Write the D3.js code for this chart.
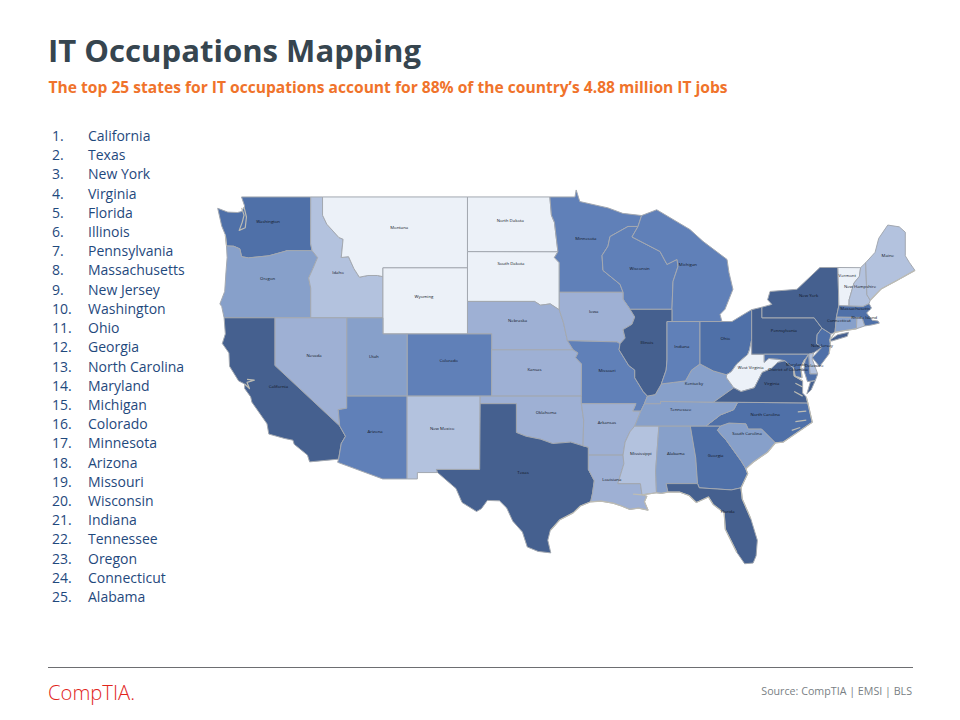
<!DOCTYPE html>
<html>
<head>
<meta charset="utf-8">
<script src="https://cdnjs.cloudflare.com/ajax/libs/d3/7.8.5/d3.min.js"></script>
<style>
  html, body { margin: 0; padding: 0; background: #fff; }
  text { font-family: "Open Sans", sans-serif; }
</style>
</head>
<body>
<div id="chart"></div>
<script>
// ranking shown in the left column
const topStates = ["California", "Texas", "New York", "Virginia", "Florida", "Illinois", "Pennsylvania",
  "Massachusetts", "New Jersey", "Washington", "Ohio", "Georgia", "North Carolina", "Maryland", "Michigan",
  "Colorado", "Minnesota", "Arizona", "Missouri", "Wisconsin", "Indiana", "Tennessee", "Oregon",
  "Connecticut", "Alabama"];

// shade groups, darkest first
const tier1 = ["California", "Texas", "New York", "Virginia", "Florida", "Illinois", "Pennsylvania"];
const tier2 = ["Massachusetts", "New Jersey", "Washington", "Ohio", "Georgia", "North Carolina", "Maryland"];
const tier3 = ["Michigan", "Colorado", "Minnesota", "Arizona", "Missouri", "Wisconsin", "Indiana"];
const tier4 = ["Tennessee", "Oregon", "Connecticut", "Alabama", "Utah", "Kentucky", "South Carolina"];
const tier5 = ["Nevada", "Nebraska", "Kansas", "Oklahoma", "Arkansas", "Louisiana", "Iowa"];
const tier6 = ["Idaho", "New Mexico", "Mississippi", "Maine", "New Hampshire", "Delaware", "Rhode Island"];
const tier7 = ["Montana", "North Dakota", "South Dakota", "Wyoming", "West Virginia", "Vermont"];

// state outlines, lon/lat
const washington = [[[-122.76,49],[-117.03,49],[-117.04,46.42],[-116.92,46],[-118.98,46],[-119.3,45.93],[-120.5,45.7],[-121.2,45.65],[-122.2,45.58],[-122.75,45.65],[-122.9,46.1],[-123.4,46.25],[-124,46.27],[-124.1,46.9],[-124.4,47.4],[-124.73,48.38],[-123.9,48.17],[-123.1,48.15],[-122.75,48.2],[-122.5,48.5]]];
const oregon = [[[-124,46.27],[-123.4,46.25],[-122.9,46.1],[-122.75,45.65],[-122.2,45.58],[-121.2,45.65],[-120.5,45.7],[-119.3,45.93],[-118.98,46],[-116.92,46],[-116.46,45.6],[-116.85,44.95],[-117.2,44.4],[-117.03,43.8],[-117.03,42],[-124.2,42],[-124.4,42.7],[-124.55,42.85],[-124.15,43.6],[-124.05,44.7],[-123.95,45.6]]];
const idaho = [[[-117.03,49],[-116.05,49],[-116.05,48],[-115.7,47.5],[-114.7,46.75],[-114.35,46.65],[-114.5,45.6],[-113.9,45.65],[-113.45,44.95],[-113,44.45],[-112.3,44.55],[-111.5,44.55],[-111.05,44.48],[-111.05,42],[-117.03,42],[-117.03,43.8],[-117.2,44.4],[-116.85,44.95],[-116.46,45.6],[-116.92,46],[-117.04,46.42]]];
const montana = [[[-116.05,49],[-104.05,49],[-104.05,45],[-111.05,45],[-111.05,44.48],[-111.5,44.55],[-112.3,44.55],[-113,44.45],[-113.45,44.95],[-113.9,45.65],[-114.5,45.6],[-114.35,46.65],[-114.7,46.75],[-115.7,47.5],[-116.05,48]]];
const wyoming = [[[-111.05,45],[-104.05,45],[-104.05,41],[-111.05,41]]];
const northDakota = [[[-104.05,49],[-97.23,49],[-97.1,48],[-96.85,47.6],[-96.56,45.93],[-104.05,45.94]]];
const southDakota = [[[-104.05,45.94],[-96.56,45.93],[-96.85,45.6],[-96.45,45.3],[-96.45,42.49],[-97.2,42.85],[-98,42.77],[-98.5,43],[-104.05,43]]];
const nebraska = [[[-104.05,43],[-98.5,43],[-98,42.77],[-97.2,42.85],[-96.45,42.49],[-96.1,41.7],[-95.9,41],[-95.77,40.58],[-95.3,40],[-102.05,40],[-102.05,41],[-104.05,41]]];
const colorado = [[[-109.05,41],[-102.05,41],[-102.05,37],[-109.05,37]]];
const kansas = [[[-102.05,40],[-95.3,40],[-94.9,39.8],[-95.1,39.5],[-94.61,39.1],[-94.62,37],[-102.05,37]]];
const utah = [[[-114.05,42],[-111.05,42],[-111.05,41],[-109.05,41],[-109.05,37],[-114.05,37]]];
const nevada = [[[-120,42],[-114.05,42],[-114.05,36.2],[-114.75,36.1],[-114.63,35],[-120,39]]];
const california = [[[-124.2,42],[-120,42],[-120,39],[-114.63,35],[-114.15,34.3],[-114.5,33.8],[-114.72,32.72],[-117.12,32.53],[-117.3,33],[-118.4,33.75],[-118.5,34.03],[-119.2,34.15],[-120.5,34.45],[-120.65,35.15],[-121.9,36.6],[-122,36.95],[-122.5,37.5],[-122.5,37.8],[-123,38],[-123.75,38.95],[-123.8,39.8],[-124.35,40.4],[-124.1,41]]];
const arizona = [[[-114.05,37],[-109.05,37],[-109.05,31.33],[-111.07,31.33],[-114.8,32.5],[-114.72,32.72],[-114.5,33.8],[-114.15,34.3],[-114.63,35],[-114.75,36.1],[-114.05,36.2]]];
const newMexico = [[[-109.05,37],[-103,37],[-103.04,32],[-106.62,32],[-106.53,31.78],[-108.2,31.78],[-108.2,31.33],[-109.05,31.33]]];
const oklahoma = [[[-103,37],[-94.62,37],[-94.62,36.5],[-94.43,35.4],[-94.48,33.64],[-95.5,33.9],[-97,33.8],[-98,34.1],[-99.2,34.3],[-100,34.56],[-100,36.5],[-103,36.5]]];
const texas = [[[-103,36.5],[-100,36.5],[-100,34.56],[-99.2,34.3],[-98,34.1],[-97,33.8],[-95.5,33.9],[-94.48,33.64],[-94.04,33.55],[-94.04,32],[-93.55,31.2],[-93.7,30.3],[-93.85,29.7],[-94.7,29.4],[-95.3,28.9],[-96.4,28.4],[-97.2,27.6],[-97.4,26.9],[-97.15,25.96],[-98.2,26.07],[-99.1,26.4],[-99.5,27.5],[-100.3,28.3],[-100.8,29.25],[-101.4,29.77],[-102.4,29.8],[-102.9,29.2],[-103.3,29],[-104.5,29.65],[-105,30.65],[-106.53,31.78],[-106.62,32],[-103.04,32]]];
const minnesota = [[[-97.23,49],[-95.15,49],[-95.05,49.38],[-94.75,48.75],[-92.4,48.4],[-91.2,48.1],[-89.63,47.98],[-89.93,47.37],[-90.76,47.37],[-92.25,46.8],[-92.42,46.25],[-92.91,45.72],[-92.83,44.85],[-91.42,44.03],[-91.17,43.55],[-96.45,43.55],[-96.45,45.3],[-96.85,45.6],[-96.56,45.93],[-96.85,47.6],[-97.1,48]]];
const wisconsin = [[[-89.93,47.37],[-90.76,47.37],[-92.25,46.8],[-92.42,46.25],[-92.91,45.72],[-92.83,44.85],[-91.42,44.03],[-91.17,43.55],[-91.17,43.13],[-90.59,42.52],[-87.12,42.52],[-87.03,44.2],[-86.62,45.08],[-86.7,45.49],[-87.53,45.2],[-88.11,45.95],[-90.43,46.78]]];
const michigan = [[[-89.63,47.98],[-88.38,48.3],[-85.63,47.2],[-84.55,46.53],[-82.56,45.49],[-82.4,44.73],[-82.07,43.73],[-82.73,42.52],[-83.14,42.21],[-82.98,41.77],[-87.12,41.77],[-87.12,42.52],[-87.03,44.2],[-86.62,45.08],[-86.7,45.49],[-87.53,45.2],[-88.11,45.95],[-90.43,46.78],[-89.93,47.37]]];
const iowa = [[[-96.45,43.55],[-91.17,43.55],[-91.17,43.13],[-90.59,42.52],[-90.2,42.05],[-90.43,41.6],[-91.17,41.27],[-91,40.74],[-91.42,40.38],[-91.67,40.5],[-95.77,40.58],[-95.9,41],[-96.1,41.7],[-96.45,42.49]]];
const missouri = [[[-95.77,40.58],[-91.67,40.5],[-91.42,40.38],[-91.5,40],[-90.7,39],[-90.2,38.7],[-90.2,38.2],[-89.5,37.3],[-89.15,37],[-89.4,36.5],[-89.7,36],[-90.37,36],[-90.1,36.5],[-94.62,36.5],[-94.62,37],[-94.61,39.1],[-95.1,39.5],[-94.9,39.8],[-95.3,40]]];
const arkansas = [[[-94.62,36.5],[-90.1,36.5],[-90.37,36],[-89.7,36],[-90.2,35],[-90.6,34.6],[-91,33.9],[-91.17,33],[-94.04,33],[-94.04,33.55],[-94.48,33.64],[-94.43,35.4]]];
const louisiana = [[[-94.04,33],[-91.17,33],[-91.1,32.4],[-91.6,31],[-89.73,31],[-89.6,30.2],[-89.2,30.1],[-89.4,29.7],[-89.1,29.1],[-89.9,29.25],[-90.6,29.15],[-91.3,29.4],[-92,29.6],[-93,29.75],[-93.85,29.7],[-93.7,30.3],[-93.55,31.2],[-94.04,32]]];
const mississippi = [[[-90.2,35],[-88.2,35],[-88.47,31.9],[-88.4,30.35],[-89.6,30.2],[-89.73,31],[-91.6,31],[-91.1,32.4],[-91.17,33],[-91,33.9],[-90.6,34.6]]];
const alabama = [[[-88.2,35],[-85.6,35],[-85.15,32.8],[-85,31],[-87.6,31],[-87.45,30.4],[-88,30.3],[-88.4,30.35],[-88.47,31.9]]];
const georgia = [[[-85.6,35],[-83.1,35],[-83.35,34.7],[-82.6,34],[-81.4,32.6],[-81,32.05],[-80.85,31.7],[-81.4,30.7],[-82.2,30.55],[-84.86,30.7],[-85,31],[-85.15,32.8]]];
const florida = [[[-87.6,31],[-85,31],[-84.86,30.7],[-82.2,30.55],[-81.4,30.7],[-81.3,29.9],[-80.6,28.5],[-80.05,26.9],[-80.15,25.75],[-80.4,25.2],[-81.1,25.15],[-81.75,26],[-82.7,27.7],[-82.8,28.9],[-83.7,29.5],[-84.1,30.05],[-85.1,29.65],[-85.7,30.15],[-86.5,30.4],[-87.45,30.4]]];
const southCarolina = [[[-83.1,35],[-82.4,35.2],[-81,35.15],[-80.8,34.8],[-79.7,34.8],[-78.55,33.85],[-79.2,33.2],[-80.4,32.5],[-81,32.05],[-81.4,32.6],[-82.6,34],[-83.35,34.7]]];
const northCarolina = [[[-81.68,36.59],[-75.87,36.55],[-75.5,35.25],[-76.5,34.7],[-77.9,33.9],[-78.55,33.85],[-79.7,34.8],[-80.8,34.8],[-81,35.15],[-82.4,35.2],[-83.1,35],[-84.3,35],[-83.1,35.75],[-82,36.1]]];
const tennessee = [[[-89.4,36.5],[-88.07,36.5],[-88.07,36.65],[-83.68,36.6],[-81.68,36.59],[-82,36.1],[-83.1,35.75],[-84.3,35],[-90.2,35],[-89.7,36]]];
const kentucky = [[[-89.4,36.5],[-88.07,36.5],[-88.07,36.65],[-83.68,36.6],[-82,37.55],[-82.6,38.2],[-82.6,38.4],[-83.7,38.65],[-84.8,39.1],[-85.5,38.7],[-86,38],[-87,37.9],[-88,37.8],[-88.5,37.1],[-89.15,37]]];
const illinois = [[[-90.59,42.52],[-87.12,42.52],[-87.12,41.77],[-87.53,41.77],[-87.53,39.35],[-87.6,38.7],[-88,37.8],[-88.5,37.1],[-89.15,37],[-89.5,37.3],[-90.2,38.2],[-90.2,38.7],[-90.7,39],[-91.5,40],[-91.42,40.38],[-91,40.74],[-91.17,41.27],[-90.43,41.6],[-90.2,42.05]]];
const indiana = [[[-87.53,41.77],[-84.8,41.77],[-84.8,39.1],[-85.5,38.7],[-86,38],[-87,37.9],[-88,37.8],[-87.6,38.7],[-87.53,39.35]]];
const ohio = [[[-84.8,41.77],[-82.15,41.77],[-81.2,42.2],[-80.52,42.5],[-80.52,40.64],[-80.7,40],[-80.85,39.7],[-81.75,39.1],[-82.2,38.6],[-82.6,38.4],[-83.7,38.65],[-84.8,39.1]]];
const westVirginia = [[[-80.52,40.64],[-80.52,39.72],[-79.48,39.72],[-79.48,39.2],[-79.1,39.45],[-78.35,39.4],[-77.75,39.3],[-78.35,39.2],[-78.9,38.8],[-79.65,38.55],[-80.3,37.55],[-81.4,37.3],[-82,37.55],[-82.6,38.2],[-82.6,38.4],[-82.2,38.6],[-81.75,39.1],[-80.85,39.7],[-80.7,40]]];
const virginia = [[[-83.68,36.6],[-81.68,36.59],[-75.87,36.55],[-76,36.95],[-76.3,37.2],[-76.3,37.6],[-76.3,38],[-77,38.3],[-77.05,38.85],[-77.5,39.1],[-77.75,39.3],[-78.35,39.2],[-78.9,38.8],[-79.65,38.55],[-80.3,37.55],[-81.4,37.3],[-82,37.55]],
  [[-75.95,37.15],[-75.65,37.95],[-75.25,38.03],[-75.6,37.4]]];
const maryland = [[[-79.48,39.72],[-75.8,39.72],[-76.2,39.3],[-76.45,38.9],[-76.35,38.2],[-76.9,38.3],[-77.05,38.85],[-77.5,39.1],[-77.75,39.3],[-78.35,39.4],[-79.1,39.45],[-79.48,39.2]],
  [[-75.8,39.72],[-75.7,38.45],[-75.05,38.45],[-75.25,38.03],[-75.9,37.95],[-76.2,38.7],[-76.1,39.3]]];
const delaware = [[[-75.8,39.72],[-75.4,39.8],[-75.5,39.4],[-75.05,38.45],[-75.7,38.45]]];
const pennsylvania = [[[-80.52,42.5],[-79.67,42.65],[-79.67,42],[-75.35,42],[-74.7,41.36],[-75.1,40.95],[-75.15,40.4],[-74.72,40.15],[-75.4,39.8],[-75.8,39.72],[-80.52,39.72],[-80.52,40.64]]];
const newJersey = [[[-74.7,41.36],[-73.95,41],[-74.05,40.65],[-74,40.4],[-74.1,39.75],[-74.9,38.93],[-75.5,39.5],[-74.72,40.15],[-75.15,40.4],[-75.1,40.95]]];
const newYork = [[[-79.67,42],[-79.67,42.65],[-78.85,42.82],[-79.2,43.1],[-79,43.6],[-76.77,43.73],[-74.87,45.02],[-73.38,45.02],[-73.3,42.75],[-73.5,42.05],[-73.62,41.1],[-73.95,41],[-74.7,41.36],[-75.35,42]],
  [[-74.05,40.62],[-73.4,40.95],[-72.5,41.1],[-72.6,40.85],[-73.9,40.55]]];
const connecticut = [[[-73.5,42.05],[-71.8,42.02],[-71.85,41.32],[-72.9,41.2],[-73.62,41.1]]];
const rhodeIsland = [[[-71.8,42.02],[-71.38,42.02],[-71.15,41.5],[-71.85,41.32]]];
const massachusetts = [[[-73.3,42.75],[-72.46,42.73],[-71.3,42.7],[-70.8,42.87],[-70.6,42.6],[-71,42.3],[-70.55,41.85],[-70.05,41.8],[-69.95,41.67],[-70.65,41.55],[-71.15,41.5],[-71.38,42.02],[-73.5,42.05]]];
const vermont = [[[-73.38,45.02],[-71.5,45.01],[-71.6,44.5],[-72.05,44.1],[-72.45,43.1],[-72.46,42.73],[-73.3,42.75]]];
const newHampshire = [[[-71.5,45.01],[-71.08,45.3],[-70.98,43.4],[-70.7,43.07],[-70.8,42.87],[-71.3,42.7],[-72.46,42.73],[-72.45,43.1],[-72.05,44.1],[-71.6,44.5]]];
const maine = [[[-71.08,45.3],[-70.3,45.9],[-70,46.7],[-69.25,47.45],[-68.3,47.35],[-67.8,47.05],[-67.8,45.7],[-67.45,45.3],[-67,44.85],[-68.5,44.25],[-69.8,43.75],[-70.7,43.07],[-70.98,43.4]]];

// bays and rough shoreline, drawn over the fills
const shoreLines = [
  [[-122.75,48.4],[-122.55,48],[-122.7,47.6],[-122.95,47.15],[-122.45,47.3],[-122.35,47.9],[-122.55,48.45]],
  [[-122.5,37.8],[-122.1,37.5],[-122.3,37.9],[-121.7,38.05],[-122.3,38.1]],
  [[-124.1,46.9],[-124,46.27]],
  [[-97.2,27.6],[-96.4,28.4],[-95.3,28.9],[-94.7,29.4],[-93.85,29.7],[-93,29.75],[-92,29.6],[-91.3,29.4],[-90.6,29.15],[-89.9,29.25],[-89.1,29.1],[-89.4,29.7],[-89.2,30.1],[-89.6,30.2],[-90.3,30.25],[-89.6,30.2],[-88.4,30.35],[-88,30.3],[-87.45,30.4],[-86.5,30.4],[-85.7,30.15],[-85.1,29.65],[-84.1,30.05],[-83.7,29.5],[-82.8,28.9],[-82.7,27.7],[-81.75,26]],
  [[-80.6,28.5],[-81.3,29.9],[-81.4,30.7],[-80.85,31.7],[-81,32.05],[-80.4,32.5],[-79.2,33.2],[-78.55,33.85],[-77.9,33.9],[-76.5,34.7],[-75.5,35.25],[-75.87,36.55],[-76,36.95]],
  [[-76,36],[-76.7,35.95]],
  [[-76,35.4],[-76.9,35.3]],
  [[-76.5,34.9],[-77.2,34.7]],
  [[-76.3,37],[-77,37.3]],
  [[-76.3,37.6],[-76.9,37.85]],
  [[-76.3,38],[-77,38.35],[-77.05,38.85]],
  [[-76.1,39.4],[-76.45,38.9],[-76.35,38.2]],
  [[-74.1,39.75],[-74,40.4],[-74.05,40.65]],
  [[-74.05,40.62],[-73.62,41.1],[-72.9,41.2],[-71.85,41.32]],
  [[-70.7,43.07],[-69.8,43.75],[-68.5,44.25],[-67,44.85]]
];

// name, outline, label position (lon, lat)
const stateTable = [
  ["Washington", washington, -120.56, 47.65], ["Oregon", oregon, -120.6, 44.4], ["Idaho", idaho, -114.77, 44.75],
  ["Montana", montana, -109.7, 47.3], ["Wyoming", wyoming, -107.65, 43.3], ["North Dakota", northDakota, -100.5, 47.7],
  ["South Dakota", southDakota, -100.45, 45.25], ["Nebraska", nebraska, -99.9, 41.85], ["Colorado", colorado, -105.6, 39.3],
  ["Kansas", kansas, -98.5, 38.75], ["Utah", utah, -111.8, 39.6], ["Nevada", nevada, -116.75, 39.65],
  ["California", california, -119.7, 37.65], ["Arizona", arizona, -111.7, 34.65], ["New Mexico", newMexico, -106.15, 34.8],
  ["Oklahoma", oklahoma, -97.55, 35.9], ["Texas", texas, -99.45, 31.8], ["Minnesota", minnesota, -94.25, 46.7],
  ["Wisconsin", wisconsin, -89.8, 44.95], ["Michigan", michigan, -85.8, 45.2], ["Iowa", iowa, -93.6, 42.4],
  ["Missouri", missouri, -92.5, 38.7], ["Arkansas", arkansas, -92.5, 35.25], ["Louisiana", louisiana, -92.1, 31.3],
  ["Mississippi", mississippi, -89.7, 33.1], ["Alabama", alabama, -86.8, 33.1], ["Georgia", georgia, -83.5, 33],
  ["Florida", florida, -82.5, 29], ["South Carolina", southCarolina, -80.9, 34.5], ["North Carolina", northCarolina, -79.4, 35.8],
  ["Tennessee", tennessee, -86.4, 36.1], ["Kentucky", kentucky, -85.3, 37.8], ["Illinois", illinois, -89.2, 40.45],
  ["Indiana", indiana, -86.3, 40.2], ["Ohio", ohio, -82.7, 40.7], ["West Virginia", westVirginia, -80.6, 38.85],
  ["Virginia", virginia, -78.85, 37.8], ["Pennsylvania", pennsylvania, -77.85, 41.2], ["Delaware", delaware, -75.35, 39.0],
  ["Maryland", maryland, -76.9, 39.05], ["New Jersey", newJersey, -74.7, 40.3], ["New York", newYork, -75.8, 43.35],
  ["Connecticut", connecticut, -73.3, 41.85], ["Rhode Island", rhodeIsland, -71.2, 42.0], ["Massachusetts", massachusetts, -71.95, 42.6],
  ["Vermont", vermont, -72.6, 44.55], ["New Hampshire", newHampshire, -71.55, 43.9], ["Maine", maine, -69.25, 45.7]
];
const dcLabel = ["District of Columbia", -77.5, 38.72];

const width = 960, height = 720;

const svg = d3.select("#chart").append("svg")
  .attr("width", width)
  .attr("height", height)
  .style("display", "block");

// heading
svg.append("text").attr("x", 48).attr("y", 62)
  .attr("font-size", 31).attr("font-weight", 700).attr("fill", "#36454f")
  .attr("textLength", 373).attr("lengthAdjust", "spacingAndGlyphs")
  .text("IT Occupations Mapping");
svg.append("text").attr("x", 48.5).attr("y", 93)
  .attr("font-size", 15.6).attr("font-weight", 700).attr("fill", "#f0732b")
  .text("The top 25 states for IT occupations account for 88% of the country\u2019s 4.88 million IT jobs");

// ranked list
const rowY = d3.scaleLinear().domain([0, topStates.length - 1]).range([141, 602]);
const list = svg.append("g").attr("font-size", 14).attr("fill", "#1f497d");
list.selectAll("text.rank").data(topStates).join("text").attr("class", "rank")
  .attr("x", 52).attr("y", (d, i) => rowY(i)).text((d, i) => (i + 1) + ".");
list.selectAll("text.name").data(topStates).join("text").attr("class", "name")
  .attr("x", 88).attr("y", (d, i) => rowY(i)).text(d => d);

// map
const projection = d3.geoMercator().scale(692).center([-96, 38]).translate([564.7, 380.9]);
const ringPath = d3.line();
const tiers = [tier1, tier2, tier3, tier4, tier5, tier6, tier7];
const shade = d3.scaleOrdinal()
  .domain(d3.range(tiers.length))
  .range(["#44608f", "#4f70a8", "#6180b8", "#87a0ca", "#9eb0d4", "#b3c2de", "#ecf1f8"]);
const tierOf = name => tiers.findIndex(t => t.includes(name));

svg.append("defs").append("filter").attr("id", "soft")
  .append("feGaussianBlur").attr("stdDeviation", 0.35);

const map = svg.append("g").attr("filter", "url(#soft)");
map.selectAll("path.state").data(stateTable).join("path").attr("class", "state")
  .attr("d", d => d[1].map(ring => ringPath(ring.map(projection)) + "Z").join(""))
  .attr("fill", d => shade(tierOf(d[0])))
  .attr("stroke", "#a3a8b0")
  .attr("stroke-width", 1)
  .attr("stroke-linejoin", "round");
map.selectAll("path.shore").data(shoreLines).join("path").attr("class", "shore")
  .attr("d", d => ringPath(d.map(projection)))
  .attr("fill", "none")
  .attr("stroke", "#bdbcb4")
  .attr("stroke-width", 1.2)
  .attr("stroke-linejoin", "round");

const labels = svg.append("g").attr("text-anchor", "middle").attr("font-size", 4.3).attr("fill", "#10161f");
labels.selectAll("text.state").data(stateTable).join("text").attr("class", "state")
  .attr("x", d => projection([d[2], d[3]])[0])
  .attr("y", d => projection([d[2], d[3]])[1] + 1.5)
  .text(d => d[0]);
labels.append("text")
  .attr("x", projection([dcLabel[1], dcLabel[2]])[0])
  .attr("y", projection([dcLabel[1], dcLabel[2]])[1] + 1.5)
  .text(dcLabel[0]);

// footer
svg.append("line").attr("x1", 48).attr("x2", 913).attr("y1", 667.5).attr("y2", 667.5)
  .attr("stroke", "#6d6e71").attr("stroke-width", 1);
svg.append("text").attr("x", 48).attr("y", 700)
  .attr("font-size", 20).attr("font-weight", 300).attr("fill", "#e1251b")
  .attr("textLength", 87).attr("lengthAdjust", "spacingAndGlyphs")
  .text("CompTIA.");
svg.append("text").attr("x", 912).attr("y", 695).attr("text-anchor", "end")
  .attr("font-size", 10.7).attr("fill", "#7a7f85")
  .text("Source: CompTIA | EMSI | BLS");
</script>
</body>
</html>
